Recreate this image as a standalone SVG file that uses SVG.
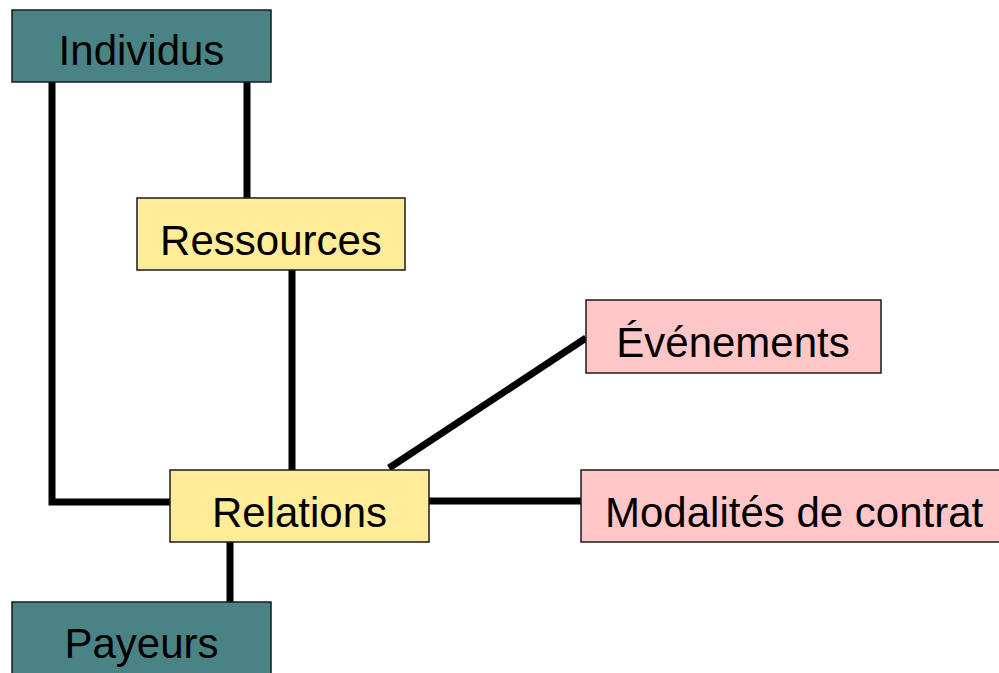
<svg xmlns="http://www.w3.org/2000/svg" width="999" height="673" viewBox="0 0 999 673">
<style>
.box{stroke:#1a1a1a;stroke-width:1.5}
.teal{fill:#4a8386}
.yel{fill:#feec98}
.pink{fill:#ffc6c8}
text{font-family:"Liberation Sans",Arial,sans-serif;font-size:42px;fill:#000}
.c{text-anchor:middle}
.ln{stroke:#000;stroke-width:7;fill:none}
</style>
<rect width="999" height="673" fill="#fff"/>
<g id="connectors">
<polyline class="ln" points="52,82 52,502 170,502"/>
<line class="ln" x1="247" y1="82" x2="247" y2="198"/>
<line class="ln" x1="292" y1="270" x2="292" y2="470"/>
<line class="ln" x1="230" y1="542" x2="230" y2="602"/>
<line class="ln" x1="429" y1="501" x2="581" y2="501"/>
<line class="ln" x1="389" y1="468" x2="586" y2="338"/>
</g>
<g id="individus"><rect class="box teal" x="12" y="10" width="259" height="72"/><text class="c" x="141.5" y="65">Individus</text></g>
<g id="ressources"><rect class="box yel" x="137" y="198" width="268" height="72"/><text class="c" x="271" y="255">Ressources</text></g>
<g id="relations"><rect class="box yel" x="170" y="470" width="259" height="72"/><text class="c" x="299.5" y="527">Relations</text></g>
<g id="evenements"><rect class="box pink" x="586" y="300" width="295" height="73"/><text class="c" x="733" y="357">Événements</text></g>
<g id="modalites"><rect class="box pink" x="581" y="470" width="430" height="72"/><text x="605" y="527">Modalités de contrat</text></g>
<g id="payeurs"><rect class="box teal" x="12" y="602" width="259" height="80"/><text class="c" x="141.5" y="658">Payeurs</text></g>
</svg>
